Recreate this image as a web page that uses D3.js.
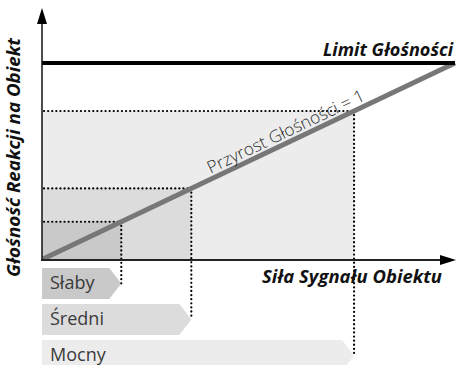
<!DOCTYPE html>
<html><head><meta charset="utf-8">
<script src="https://cdn.jsdelivr.net/npm/d3@7"></script>
<style>body{margin:0;background:#fff}svg{display:block}</style>
</head><body>
<script>
// Data
const levelNames = ["Słaby", "Średni", "Mocny"];
const levelValues = [0.19, 0.36, 0.755];
const levelFills = ["#c9c9c9", "#dcdcdc", "#ececec"];
const gainLine = [[0, 0], [1, 1]];
const limitValue = 1;
const gainLabel = "Przyrost Głośności = 1";
const limitLabel = "Limit Głośności";
const xTitle = "Siła Sygnału Obiektu";
const yTitle = "Głośność Reakcji na Obiekt";

const W = 456, H = 365;
const svg = d3.select("body").append("svg").attr("width", W).attr("height", H);
const x = d3.scaleLinear().domain([0, 1]).range([43, 455]);
const y = d3.scaleLinear().domain([0, 1]).range([259, 63]);
const axisX = 42, axisY = 260;
const font = "'Open Sans', 'Noto Sans', sans-serif";

// shaded regions (largest first)
const order = d3.range(levelValues.length).reverse();
svg.selectAll("rect.region").data(order).enter().append("rect")
  .attr("x", axisX).attr("y", i => y(levelValues[i]))
  .attr("width", i => x(levelValues[i]) - axisX)
  .attr("height", i => axisY - y(levelValues[i]))
  .attr("fill", i => levelFills[i]);

// bands
const bandTop = i => 268 + i * 36, bandH = 31, notch = 12;
svg.selectAll("path.band").data(levelValues).enter().append("path")
  .attr("d", (v, i) => {
    const t = bandTop(i), xe = x(v);
    return `M${axisX},${t}L${xe - notch},${t}L${xe},${t + bandH / 2}L${xe - notch},${t + bandH}L${axisX},${t + bandH}Z`;
  })
  .attr("fill", (v, i) => levelFills[i]);
svg.selectAll("text.band").data(levelNames).enter().append("text")
  .attr("x", 50).attr("y", (d, i) => bandTop(i) + 21)
  .attr("font-family", font).attr("font-size", 18).attr("fill", "#3a3a3a")
  .text(d => d);

// dotted guides
const dot = { stroke: "#000", "stroke-width": 2.2, "stroke-dasharray": "0.1 4", "stroke-linecap": "round" };
levelValues.forEach((v, i) => {
  const h = svg.append("line").attr("x1", axisX + 2).attr("x2", x(v)).attr("y1", y(v)).attr("y2", y(v));
  const vl = svg.append("line").attr("x1", x(v)).attr("x2", x(v)).attr("y1", y(v)).attr("y2", bandTop(i) + bandH / 2);
  [h, vl].forEach(l => Object.entries(dot).forEach(([k, val]) => l.attr(k, val)));
});

// gain line
svg.append("path").datum(gainLine)
  .attr("d", d3.line().x(d => x(d[0])).y(d => y(d[1])))
  .attr("stroke", "#777").attr("stroke-width", 5).attr("fill", "none");

// limit line
svg.append("line").attr("x1", axisX).attr("x2", x(1)).attr("y1", y(limitValue)).attr("y2", y(limitValue))
  .attr("stroke", "#000").attr("stroke-width", 4);

// axes
svg.append("line").attr("x1", axisX).attr("x2", axisX).attr("y1", axisY).attr("y2", 20)
  .attr("stroke", "#111").attr("stroke-width", 1.5);
svg.append("line").attr("x1", axisX - 1).attr("x2", 444).attr("y1", axisY).attr("y2", axisY)
  .attr("stroke", "#222").attr("stroke-width", 2);
svg.append("path").attr("d", `M${axisX},8L${axisX + 5},24L${axisX - 5},24Z`).attr("fill", "#000");
svg.append("path").attr("d", `M456,${axisY}L440,${axisY - 5}L440,${axisY + 5}Z`).attr("fill", "#000");

// gain label
const ang = Math.atan2(y(0) - y(1), x(1) - x(0)) * 180 / Math.PI;
const lx = 368, ly = y(x.invert(lx));
svg.append("text")
  .attr("transform", `translate(${lx},${ly}) rotate(${-ang})`)
  .attr("x", 0).attr("y", -5).attr("text-anchor", "end")
  .attr("font-family", font).attr("font-weight", 300).attr("font-size", 17).attr("fill", "#2a2a2a")
  .attr("textLength", 172).attr("lengthAdjust", "spacingAndGlyphs")
  .text(gainLabel);

// titles
const bi = (s, len) => s.attr("font-family", font).attr("font-weight", 700).attr("font-style", "italic")
  .attr("font-size", 17.5).attr("fill", "#111").attr("textLength", len).attr("lengthAdjust", "spacingAndGlyphs");
bi(svg.append("text").attr("x", 453).attr("y", 56).attr("text-anchor", "end").text(limitLabel), 130);
bi(svg.append("text").attr("x", 442).attr("y", 283).attr("text-anchor", "end").text(xTitle), 180);
bi(svg.append("text").attr("transform", "translate(20,157.5) rotate(-90)").attr("text-anchor", "middle").text(yTitle), 239);
</script>
</body></html>
